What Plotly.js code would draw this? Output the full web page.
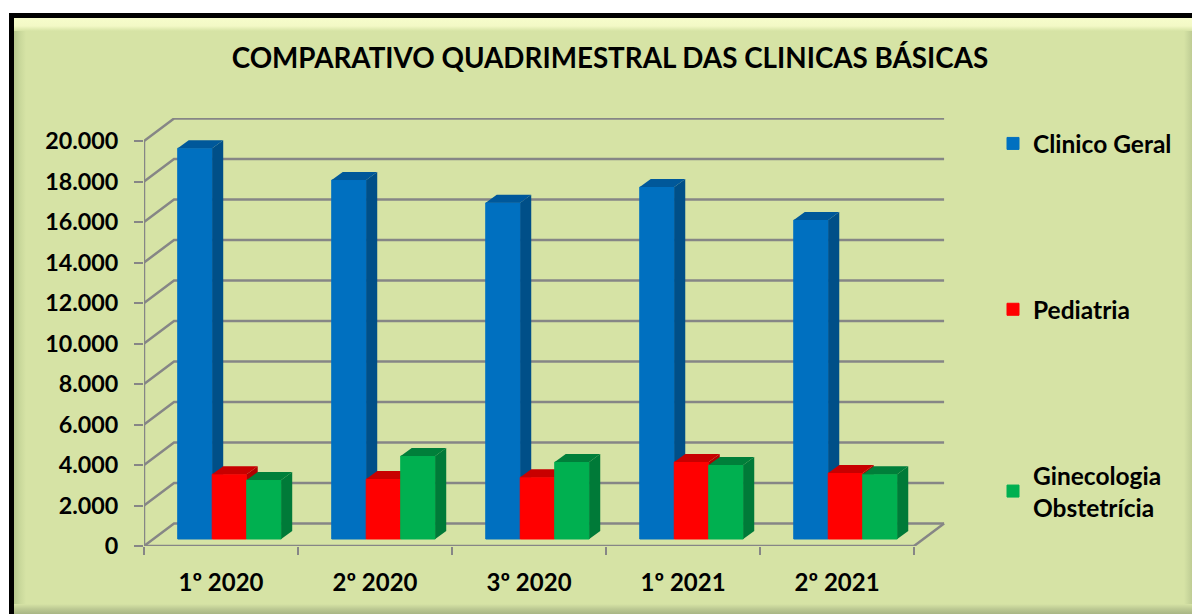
<!DOCTYPE html>
<html><head><meta charset="utf-8">
<script src="https://cdn.plot.ly/plotly-3.0.1.min.js"></script>
<style>
html,body{margin:0;padding:0;background:#fff;width:1192px;height:614px;overflow:hidden}
#panel{position:absolute;left:9px;top:13px;width:1178px;height:596px;border-left:5px solid #000;border-top:5px solid #000;
 background:
  linear-gradient(to bottom,#f6fccb 0,#f3f9c6 8px,#d6e3a5 13px,rgba(214,227,165,0) 13px),
  linear-gradient(to top,#a9b684 0,#bcc993 5px,#d6e3a5 10px,rgba(214,227,165,0) 10px),
  linear-gradient(to right,#b6c68c 0,#c9d89b 6px,#d6e3a5 12px,rgba(214,227,165,0) 12px),
  linear-gradient(to left,#bfcc94 0,#cddb9f 5px,#d6e3a5 8px,rgba(214,227,165,0) 8px),
  #d6e3a5;}
#chart{position:absolute;left:0;top:0;width:1192px;height:614px}
</style></head><body>
<div id="panel"></div>
<div id="chart"></div>
<script>
var categories = ['1º 2020','2º 2020','3º 2020','1º 2021','2º 2021'];
var clinicoGeral = [19300,17730,16600,17380,15750];
var pediatria = [3200,2960,3050,3800,3260];
var ginecologia = [2910,4100,3800,3650,3200];
var yTicks = [0,2000,4000,6000,8000,10000,12000,14000,16000,18000,20000];
var yTickText = ['0','2.000','4.000','6.000','8.000','10.000','12.000','14.000','16.000','18.000','20.000'];
var seriesNames = ['Clinico Geral','Pediatria','Ginecologia<br>Obstetrícia'];

var GRAY='#868686';
var FONT='Lato, Carlito, sans-serif';
var wallDx=0.195, wallDy=1111;   // depth of the walls
var barW=0.224, barDx=0.0714, barDy=395, floorDy=345, groupShift=0.055;

// walls and grid
var gx=[], gy=[];
yTicks.forEach(function(t){
  gx.push(0,wallDx,5+wallDx,null); gy.push(t,t+wallDy,t+wallDy,null);
});
gx.push(5,5+wallDx,null); gy.push(0,wallDy,null);
var traces=[
 {type:'scatter',mode:'lines',x:gx,y:gy,line:{color:GRAY,width:2.5},hoverinfo:'skip',showlegend:false,cliponaxis:false,xaxis:'x',yaxis:'y'},
 {type:'scatter',mode:'lines',x:[0,0,null,0,5],y:[0,20000,null,0,0],line:{color:GRAY,width:2.5},hoverinfo:'skip',showlegend:false,cliponaxis:false,xaxis:'x',yaxis:'y'}
];

var series=[
 {vals:clinicoGeral,front:'#0070C0',side:'#004F88',top:'#00589A',ax:'2'},
 {vals:pediatria,front:'#FF0000',side:'#B00000',top:'#C80000',ax:'3'},
 {vals:ginecologia,front:'#00B050',side:'#007A38',top:'#007F3A',ax:'4'}
];
series.forEach(function(s,k){
  var xs=categories.map(function(c,i){return i+0.5+groupShift+(k-1)*barW;});
  traces.push({type:'bar',name:seriesNames[k],x:xs,y:s.vals,base:floorDy,width:barW,
    marker:{color:s.front,line:{color:s.front,width:1}},legendgroup:'g'+k,
    hovertext:categories,xaxis:'x'+s.ax,yaxis:'y'+s.ax});
  var sx=[],sy=[],tx=[],ty=[];
  xs.forEach(function(x,i){
    var l=x-barW/2,r=x+barW/2,b=floorDy,v=floorDy+s.vals[i];
    sx.push(r,r+barDx,r+barDx,r,r,null); sy.push(b,b+barDy,v+barDy,v,b,null);
    tx.push(l,l+barDx,r+barDx,r,l,null); ty.push(v,v+barDy,v+barDy,v,v,null);
  });
  [[sx,sy,s.side],[tx,ty,s.top]].forEach(function(p){
    traces.push({type:'scatter',mode:'none',x:p[0],y:p[1],fill:'toself',fillcolor:p[2],hoverinfo:'skip',showlegend:false,xaxis:'x'+s.ax,yaxis:'y'+s.ax});
  });
});

var xRange=[0,5+wallDx+0.006], yRange=[0,21136];
var layout={
  width:1192,height:614,
  paper_bgcolor:'rgba(0,0,0,0)',plot_bgcolor:'rgba(0,0,0,0)',
  margin:{l:144,r:247,t:118,b:68,pad:0},
  title:{text:'<b>COMPARATIVO QUADRIMESTRAL DAS CLINICAS BÁSICAS</b>',font:{family:FONT,size:27.8,color:'#000'},
    x:610/1192,xref:'container',xanchor:'center',y:1-58/614,yref:'container',yanchor:'middle'},
  showlegend:true,
  legend:{xref:'container',yref:'container',x:(1018-25)/1192,xanchor:'left',y:1-121/614,yanchor:'top',maxheight:480,
    traceorder:'grouped',tracegroupgap:131,font:{family:FONT,size:24.5,color:'#000',weight:'bold'},bgcolor:'rgba(0,0,0,0)',itemclick:false,itemdoubleclick:false},
  bargap:0,
  xaxis:{range:xRange,fixedrange:true,showgrid:false,zeroline:false,showline:false,
    tickmode:'array',tickvals:categories.map(function(c,i){return i+0.5;}),ticktext:categories,ticks:'',
    ticklabelstandoff:20,tickfont:{family:FONT,size:24,color:'#000',weight:'bold'},
    minor:{tickmode:'array',tickvals:[0,1,2,3,4,5],ticks:'outside',ticklen:8,tickwidth:2,tickcolor:GRAY,showgrid:false}},
  yaxis:{range:yRange,fixedrange:true,showgrid:false,zeroline:false,showline:false,
    tickmode:'array',tickvals:yTicks,ticktext:yTickText,ticks:'outside',ticklen:9,tickwidth:2,tickcolor:GRAY,
    ticklabelstandoff:11,tickfont:{family:FONT,size:23.3,color:'#000',weight:'bold'}}
};
['2','3','4'].forEach(function(a){
  layout['xaxis'+a]={overlaying:'x',range:xRange,visible:false,fixedrange:true};
  layout['yaxis'+a]={overlaying:'y',range:yRange,visible:false,fixedrange:true};
});
Plotly.newPlot('chart',traces,layout,{displayModeBar:false,staticPlot:true});
</script>
</body></html>
